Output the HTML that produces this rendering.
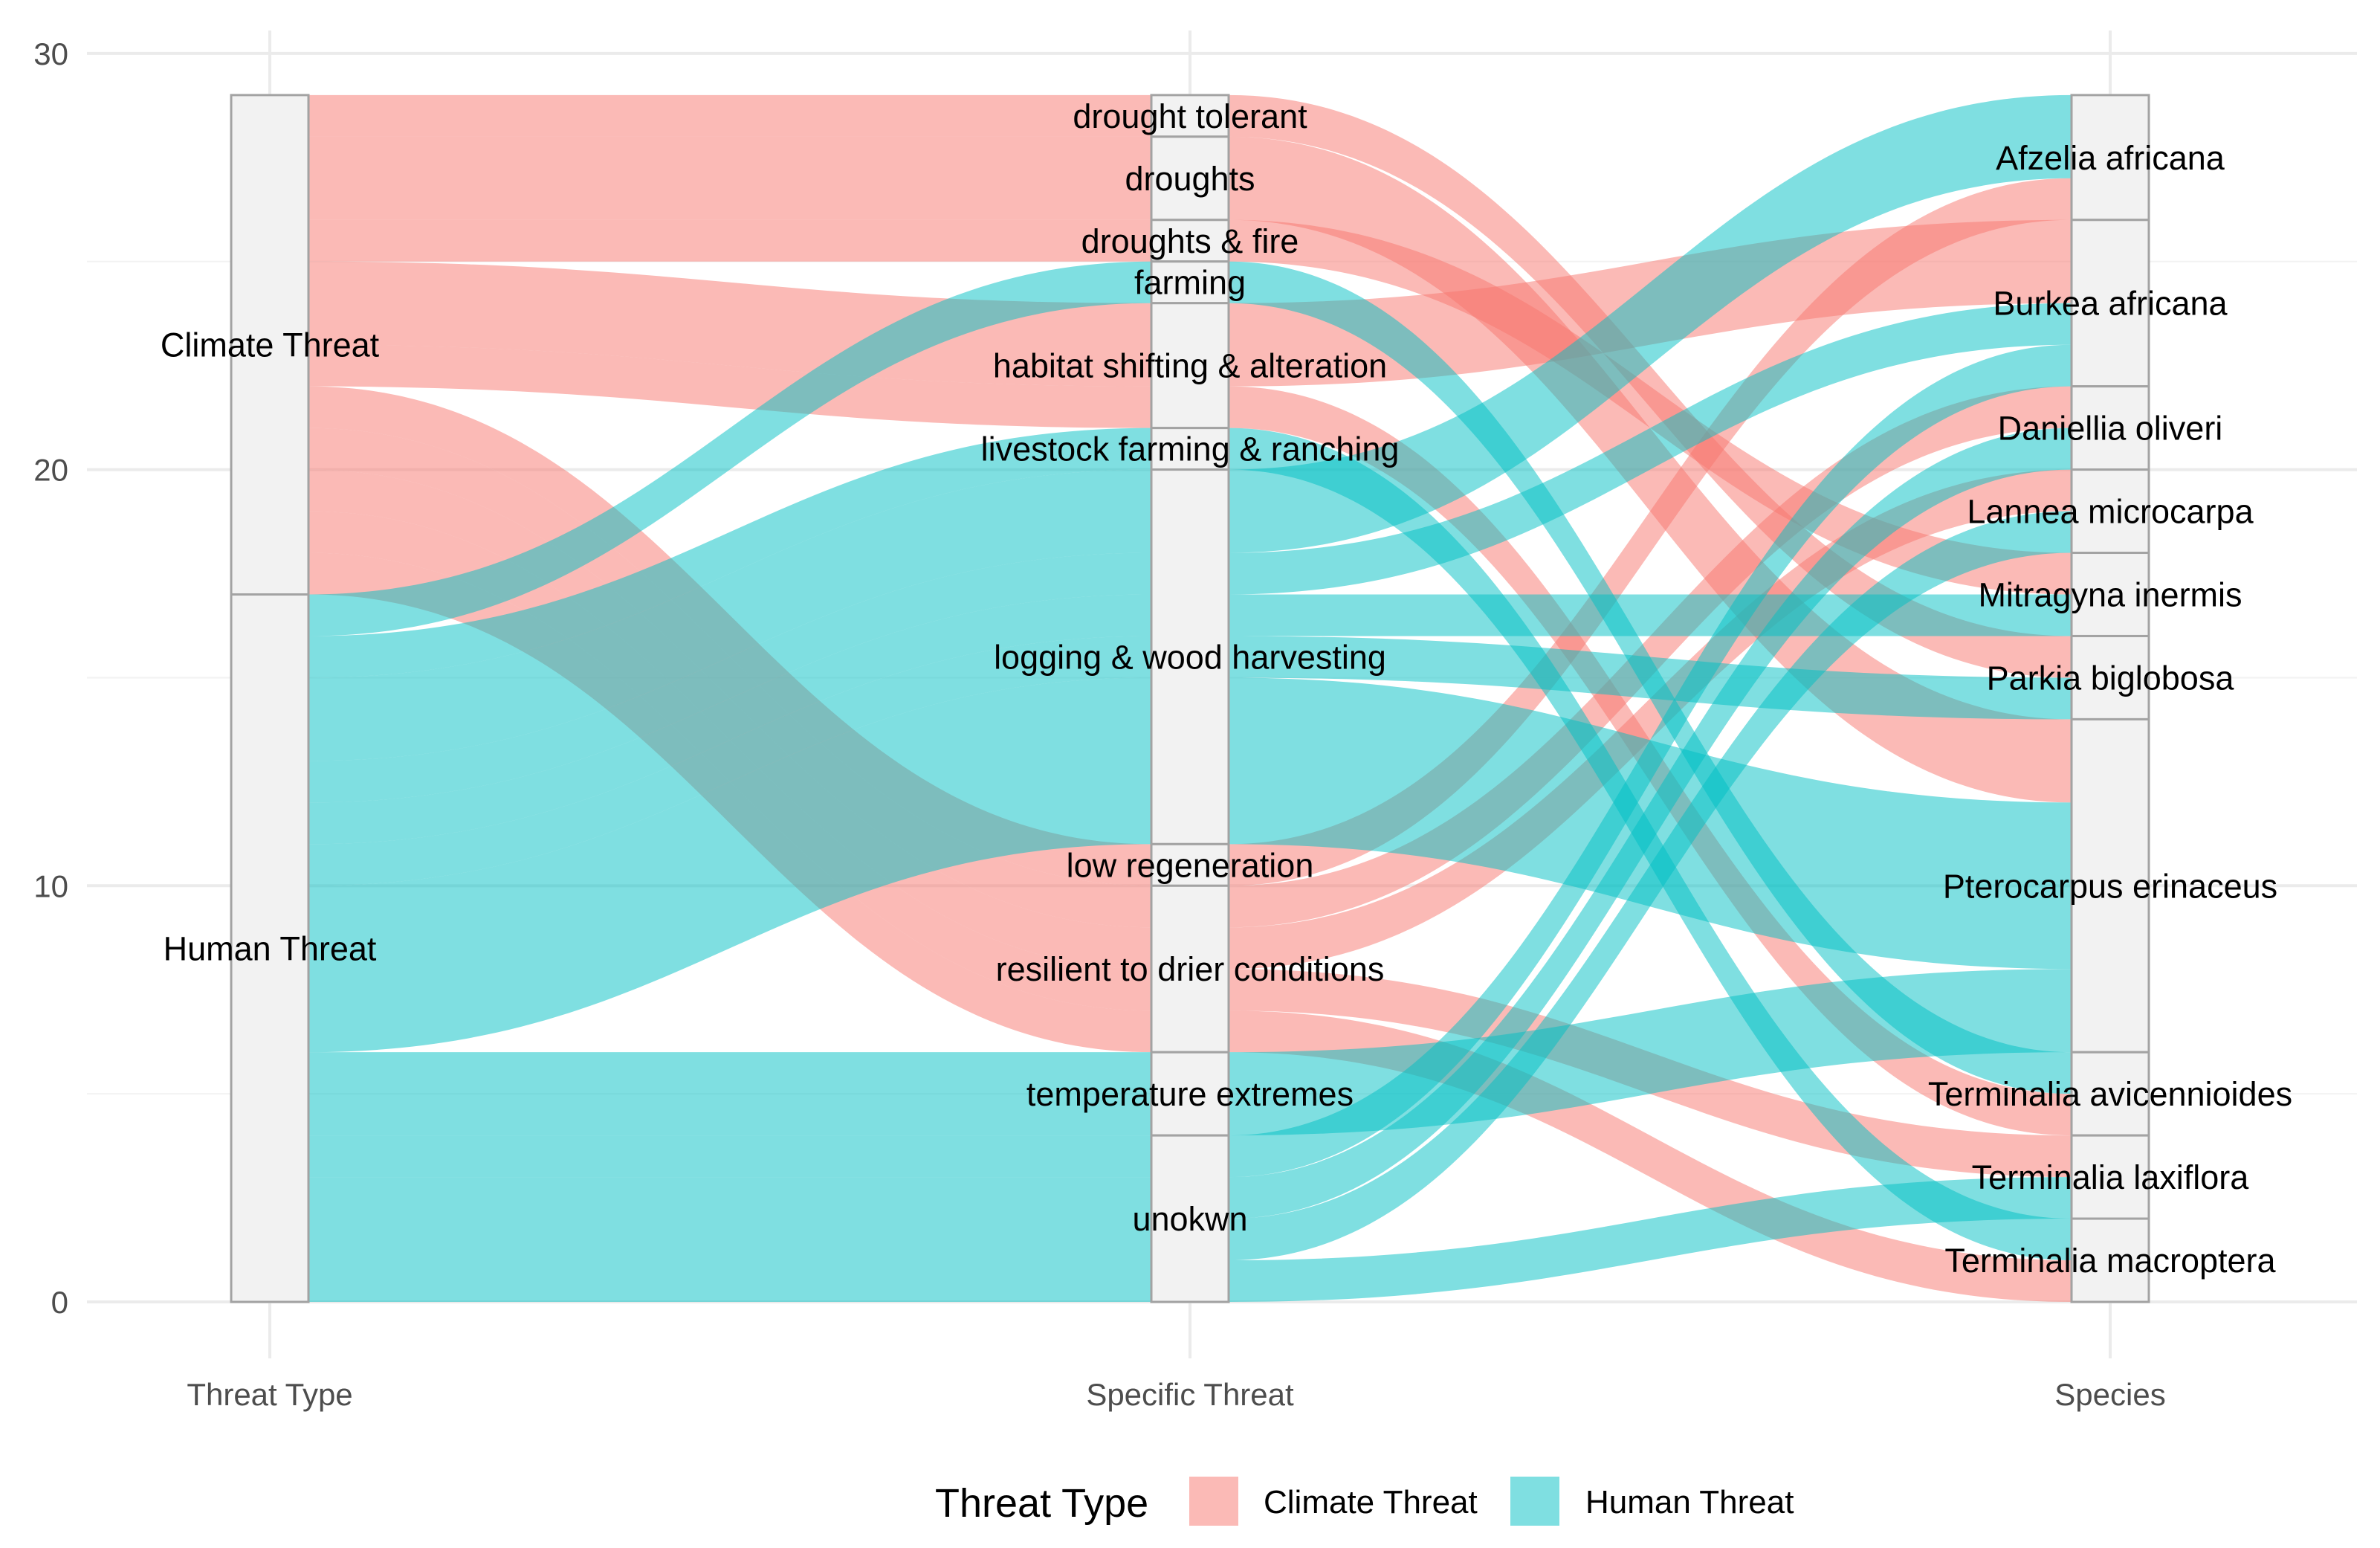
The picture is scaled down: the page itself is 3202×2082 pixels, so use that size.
<!DOCTYPE html>
<html>
<head>
<meta charset="utf-8">
<style>
  html, body { margin: 0; padding: 0; background: #ffffff; }
  svg { display: block; font-family: "Liberation Sans", Arial, sans-serif; }
</style>
</head>
<body>
<svg id="chart" width="3202" height="2082" viewBox="0 0 3202 2082" xmlns="http://www.w3.org/2000/svg">
  <rect x="0" y="0" width="3202" height="2082" fill="#ffffff"/>
  <g id="grid"></g>
  <g id="flows"></g>
  <g id="strata"></g>
  <g id="labels"></g>
  <g id="axes"></g>
  <g id="legend">
    <text x="1258" y="2040" font-size="54" fill="#000">Threat Type</text>
    <rect x="1600" y="1986" width="66" height="66" fill="#F8766D" fill-opacity="0.5"/>
    <text x="1700" y="2035" font-size="44" fill="#000">Climate Threat</text>
    <rect x="2032" y="1986" width="66" height="66" fill="#00BFC4" fill-opacity="0.5"/>
    <text x="2133" y="2035" font-size="44" fill="#000">Human Threat</text>
  </g>
</svg>
<script>
// ---- data ----
const axisNames = ["Threat Type", "Specific Threat", "Species"];
const threatTypes = ["Climate Threat", "Human Threat"];
const specificThreats = ["drought tolerant", "droughts", "droughts & fire", "farming", "habitat shifting & alteration", "livestock farming & ranching", "logging & wood harvesting", "low regeneration", "resilient to drier conditions", "temperature extremes", "unokwn"];
const speciesList = ["Afzelia africana", "Burkea africana", "Daniellia oliveri", "Lannea microcarpa", "Mitragyna inermis", "Parkia biglobosa", "Pterocarpus erinaceus", "Terminalia avicennioides", "Terminalia laxiflora", "Terminalia macroptera"];
const flowType = ["Human Threat","Human Threat","Human Threat","Human Threat","Human Threat","Human Threat","Human Threat","Human Threat","Human Threat","Human Threat","Human Threat","Human Threat","Climate Threat","Climate Threat","Climate Threat","Climate Threat","Climate Threat","Climate Threat","Climate Threat","Climate Threat","Climate Threat","Climate Threat"];
const flowSpecific = ["farming","livestock farming & ranching","logging & wood harvesting","logging & wood harvesting","logging & wood harvesting","logging & wood harvesting","logging & wood harvesting","temperature extremes","unokwn","unokwn","unokwn","unokwn","drought tolerant","droughts","droughts & fire","habitat shifting & alteration","habitat shifting & alteration","low regeneration","resilient to drier conditions","resilient to drier conditions","resilient to drier conditions","resilient to drier conditions"];
const flowSpecies = ["Terminalia avicennioides","Terminalia macroptera","Afzelia africana","Burkea africana","Mitragyna inermis","Parkia biglobosa","Pterocarpus erinaceus","Pterocarpus erinaceus","Burkea africana","Daniellia oliveri","Lannea microcarpa","Terminalia laxiflora","Parkia biglobosa","Pterocarpus erinaceus","Mitragyna inermis","Burkea africana","Terminalia avicennioides","Afzelia africana","Daniellia oliveri","Lannea microcarpa","Terminalia laxiflora","Terminalia macroptera"];
const flowCount = [1,1,2,1,1,1,4,2,1,1,1,1,1,2,1,2,1,1,1,1,1,1];
const yTicks = [0, 10, 20, 30];
const yMinor = [5, 15, 25];
const typeColors = {"Climate Threat": "#F8766D", "Human Threat": "#00BFC4"};

// ---- scales ----
const Y0 = 1751, PX_PER = 55.97;
function yScale(v) { return Y0 - v * PX_PER; }
const axisX = [363, 1601, 2839];
const HALF = 52;
const NS = "http://www.w3.org/2000/svg";
function mk(tag, attrs, parent) {
  const e = document.createElementNS(NS, tag);
  for (const k in attrs) e.setAttribute(k, attrs[k]);
  parent.appendChild(e);
  return e;
}

// ---- grid ----
const grid = document.getElementById('grid');
yMinor.forEach(v => {
  const l = mk('line', {x1: 117, x2: 3171, y1: yScale(v), y2: yScale(v), stroke: '#F2F2F2', 'stroke-width': 2}, grid);
  
  
});
yTicks.forEach(v => {
  const l = mk('line', {x1: 117, x2: 3171, y1: yScale(v), y2: yScale(v), stroke: '#EBEBEB', 'stroke-width': 4}, grid);
  
  
});
axisX.forEach((x, i) => {
  const l = mk('line', {x1: x, x2: x, y1: 41, y2: 1827, stroke: '#EBEBEB', 'stroke-width': 4}, grid);
  
  
});

// ---- axes labels ----
const axes = document.getElementById('axes');
yTicks.forEach(v => {
  const t = mk('text', {x: 92, y: yScale(v) + 15, 'text-anchor': 'end', 'font-size': 42, fill: '#4D4D4D'}, axes);
  t.textContent = v;
  
  
});
axisNames.forEach((n, i) => {
  const t = mk('text', {x: axisX[i], y: 1890, 'text-anchor': 'middle', 'font-size': 42, fill: '#4D4D4D'}, axes);
  t.textContent = n;
  
  
});

// ---- stacking ----
const orders = [threatTypes, specificThreats, speciesList];
const nF = flowCount.length;
const idx = [];
for (let i = 0; i < nF; i++) {
  idx.push([threatTypes.indexOf(flowType[i]), specificThreats.indexOf(flowSpecific[i]), speciesList.indexOf(flowSpecies[i])]);
}
const total = flowCount.reduce((a, b) => a + b, 0);
const keyOrder = [[0, 1, 2], [1, 2, 0], [2, 1, 0]];
const pos = [];
const strataBounds = [];
for (let a = 0; a < 3; a++) {
  const ids = [...Array(nF).keys()];
  const ko = keyOrder[a];
  ids.sort((p, q) => {
    for (const k of ko) { if (idx[p][k] !== idx[q][k]) return idx[p][k] - idx[q][k]; }
    return p - q;
  });
  let cur = total;
  const arr = new Array(nF);
  const bounds = {};
  ids.forEach(i => {
    arr[i] = cur;
    const s = idx[i][a];
    if (!bounds[s]) bounds[s] = {top: cur, bottom: cur};
    cur -= flowCount[i];
    bounds[s].bottom = cur;
  });
  pos.push(arr);
  strataBounds.push(bounds);
}

// ---- flows (climate drawn first, human on top) ----
const flows = document.getElementById('flows');
const drawOrder = [...Array(nF).keys()].sort((p, q) => idx[p][0] - idx[q][0] || p - q);
for (let seg = 0; seg < 2; seg++) {
  const x0 = axisX[seg] + HALF, x1 = axisX[seg + 1] - HALF;
  const dx = x1 - x0;
  const c0 = x0 + dx * 0.45, c1 = x1 - dx * 0.45;
  drawOrder.forEach(i => {
    const t0 = yScale(pos[seg][i]), b0 = yScale(pos[seg][i] - flowCount[i]);
    const t1 = yScale(pos[seg + 1][i]), b1 = yScale(pos[seg + 1][i] - flowCount[i]);
    const d = `M${x0},${t0} C${c0},${t0} ${c1},${t1} ${x1},${t1} L${x1},${b1} C${c1},${b1} ${c0},${b0} ${x0},${b0} Z`;
    const p = mk('path', {d: d, fill: typeColors[flowType[i]], 'fill-opacity': 0.5, stroke: 'none'}, flows);
    
    
  });
}

// ---- strata & labels ----
const strata = document.getElementById('strata');
const labels = document.getElementById('labels');
for (let a = 0; a < 3; a++) {
  const b = strataBounds[a];
  orders[a].forEach((name, s) => {
    if (!b[s]) return;
    const yt = yScale(b[s].top), yb = yScale(b[s].bottom);
    const r = mk('rect', {x: axisX[a] - HALF, y: yt, width: HALF * 2, height: yb - yt, fill: '#F2F2F2', stroke: '#A3A3A3', 'stroke-width': 3}, strata);
    
    
    const t = mk('text', {x: axisX[a], y: (yt + yb) / 2 + 16, 'text-anchor': 'middle', 'font-size': 45, fill: '#000'}, labels);
    t.textContent = name;
    
    
  });
}
</script>
</body>
</html>
